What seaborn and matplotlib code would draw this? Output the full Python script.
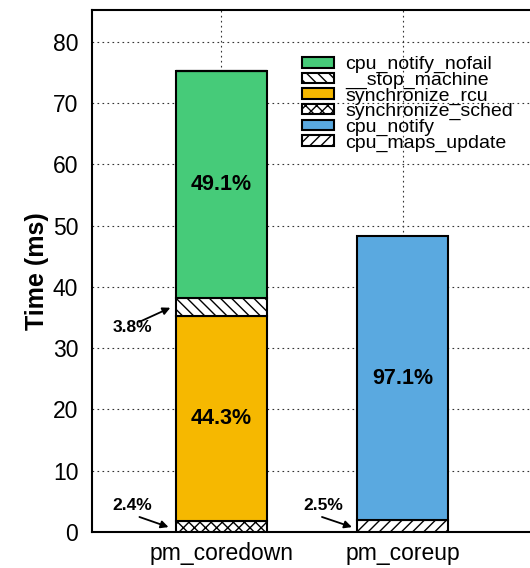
import numpy as np
import seaborn as sns
import matplotlib.pyplot as plt

# data (ms)
categories = ['pm_coredown', 'pm_coreup']
segments = ['synchronize_sched', 'synchronize_rcu', '__stop_machine', 'cpu_notify_nofail',
            'cpu_maps_update', 'cpu_notify']
seg_values = {
    'synchronize_sched': [1.8, 0.0],
    'synchronize_rcu': [33.5, 0.0],
    '__stop_machine': [2.9, 0.0],
    'cpu_notify_nofail': [37.1, 0.0],
    'cpu_maps_update': [0.0, 1.9],
    'cpu_notify': [0.0, 46.4],
}
legend_order = ['cpu_notify_nofail', '__stop_machine', 'synchronize_rcu',
                'synchronize_sched', 'cpu_notify', 'cpu_maps_update']
big_labels = ['49.1%', '44.3%', '97.1%']
small_labels = ['3.8%', '2.4%', '2.5%']

colors = {
    'synchronize_sched': 'white',
    'synchronize_rcu': '#f6b800',
    '__stop_machine': 'white',
    'cpu_notify_nofail': '#46cb79',
    'cpu_maps_update': 'white',
    'cpu_notify': '#5aa9e0',
}
hatches = {
    'synchronize_sched': 'xxx',
    'synchronize_rcu': '',
    '__stop_machine': '\\\\\\',
    'cpu_notify_nofail': '',
    'cpu_maps_update': '///',
    'cpu_notify': '',
}

sns.set_style('white')
plt.rcParams['font.family'] = ['Liberation Sans', 'DejaVu Sans']
plt.rcParams['hatch.linewidth'] = 1.0
for key in ['text.color', 'axes.labelcolor', 'xtick.color', 'ytick.color']:
    plt.rcParams[key] = 'black'

fig = plt.figure(figsize=(5.3, 5.68), dpi=100)
ax = fig.add_axes([0.174, 0.0634, 0.843, 0.919])

x = np.arange(len(categories))
bottom = np.zeros(len(categories))
handles = {}
seg_mid = {}
for seg in segments:
    vals = np.array(seg_values[seg])
    bars = ax.bar(x, vals, 0.5, bottom=bottom, color=colors[seg], hatch=hatches[seg],
                  edgecolor='black', linewidth=1.5, label=seg, zorder=3)
    handles[seg] = bars
    seg_mid[seg] = bottom + vals / 2
    bottom = bottom + vals

# big percentage labels
ax.text(x[0], seg_mid['cpu_notify_nofail'][0], big_labels[0], ha='center', va='center',
        fontsize=15.5, fontweight='bold', zorder=5)
ax.text(x[0], seg_mid['synchronize_rcu'][0], big_labels[1], ha='center', va='center',
        fontsize=15.5, fontweight='bold', zorder=5)
ax.text(x[1], seg_mid['cpu_notify'][1], big_labels[2], ha='center', va='center',
        fontsize=15.5, fontweight='bold', zorder=5)

# small labels with arrows
arrow = dict(arrowstyle='-|>', color='black', lw=1.3, mutation_scale=11, shrinkA=0, shrinkB=0)
small_text = [(-0.49, 33.3), (-0.49, 4.25), (0.56, 4.25)]
arrow_tail = [(-0.45, 34.3), (-0.45, 2.45), (0.555, 2.45)]
arrow_head = [(-0.28, 36.6), (-0.29, 0.8), (0.72, 0.8)]
for lab, tpos, tail, head in zip(small_labels, small_text, arrow_tail, arrow_head):
    ax.text(tpos[0], tpos[1], lab, ha='center', va='center', fontsize=12.5,
            fontweight='bold', zorder=5)
    ax.annotate('', xy=head, xytext=tail, arrowprops=arrow, zorder=5)

ax.set_xlim(-0.71, 1.75)
ax.set_ylim(0, 85.2)
ax.set_yticks(range(0, 81, 10))
ax.set_xticks(x)
ax.set_xticklabels(categories, fontsize=16.5)
ax.tick_params(axis='y', labelsize=16.5, length=0, pad=10)
ax.tick_params(axis='x', length=0, pad=7)
ax.set_ylabel('Time (ms)', fontsize=18, fontweight='bold', labelpad=3)

ax.grid(True, linestyle=(0, (1.5, 3)), color='#333333', linewidth=0.8, zorder=0)
ax.set_axisbelow(True)
for side in ['left', 'top', 'bottom', 'right']:
    ax.spines[side].set_color('black')
    ax.spines[side].set_linewidth(1.5)

leg = ax.legend([handles[s] for s in legend_order], legend_order, loc='upper left',
                bbox_to_anchor=(0.447, 0.93), frameon=False, fontsize=14,
                labelspacing=-0.08, handlelength=1.64, handleheight=0.45, handletextpad=0.6,
                borderpad=0.0)

fig.savefig('out.png', dpi=100)
